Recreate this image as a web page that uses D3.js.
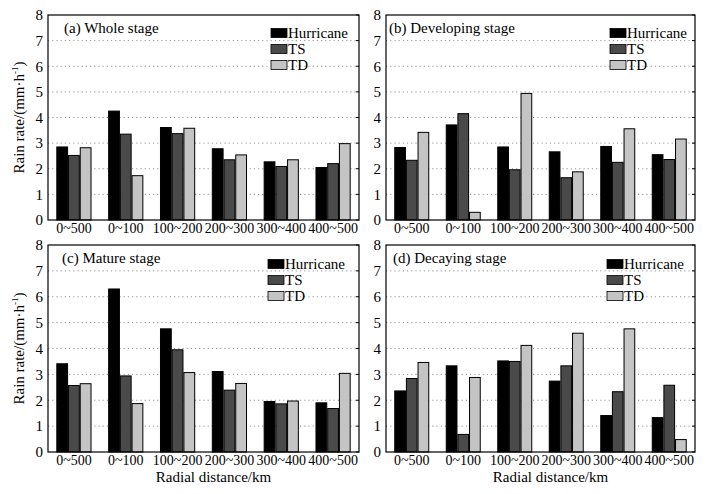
<!DOCTYPE html>
<html>
<head>
<meta charset="utf-8">
<script src="https://cdn.jsdelivr.net/npm/d3@7"></script>
<style>
  body { margin: 0; background: #fff; }
  text { font-family: "Liberation Serif", "Times New Roman", serif; }
</style>
</head>
<body>
<div id="chart"></div>
<script>
// data
var categories = ["0~500", "0~100", "100~200", "200~300", "300~400", "400~500"];
var seriesNames = ["Hurricane", "TS", "TD"];
var yTicks = [0, 1, 2, 3, 4, 5, 6, 7, 8];

var wholeHurricane = [2.85, 4.25, 3.61, 2.78, 2.27, 2.05];
var wholeTS = [2.52, 3.35, 3.37, 2.35, 2.09, 2.20];
var wholeTD = [2.82, 1.73, 3.58, 2.54, 2.35, 2.98];

var devHurricane = [2.83, 3.71, 2.85, 2.66, 2.87, 2.55];
var devTS = [2.33, 4.15, 1.96, 1.65, 2.25, 2.36];
var devTD = [3.42, 0.30, 4.94, 1.88, 3.56, 3.16];

var matHurricane = [3.41, 6.30, 4.76, 3.11, 1.95, 1.90];
var matTS = [2.57, 2.94, 3.95, 2.39, 1.86, 1.68];
var matTD = [2.64, 1.87, 3.07, 2.65, 1.97, 3.04];

var decHurricane = [2.36, 3.33, 3.52, 2.74, 1.41, 1.33];
var decTS = [2.84, 0.68, 3.50, 3.33, 2.33, 2.58];
var decTD = [3.46, 2.88, 4.12, 4.59, 4.76, 0.48];

var titles = ["(a) Whole stage", "(b) Developing stage", "(c) Mature stage", "(d) Decaying stage"];

var colors = ["#000000", "#4a4a4a", "#c4c4c4"];

// panel boxes
var panels = [
  {x0: 48, x1: 359, y0: 15, y1: 220, titleDx: 16, legX: 271, legY: 33, data: [wholeHurricane, wholeTS, wholeTD], ylab: true, xlab: false},
  {x0: 386, x1: 695, y0: 15, y1: 220, titleDx: 3, legX: 610, legY: 33, data: [devHurricane, devTS, devTD], ylab: false, xlab: false},
  {x0: 48, x1: 359, y0: 245, y1: 452, titleDx: 14, legX: 268, legY: 264, data: [matHurricane, matTS, matTD], ylab: true, xlab: true},
  {x0: 386, x1: 695, y0: 245, y1: 452, titleDx: 7, legX: 607, legY: 264, data: [decHurricane, decTS, decTD], ylab: false, xlab: true}
];

var svg = d3.select("#chart")
  .append("svg")
  .attr("width", 719)
  .attr("height", 494);

panels.forEach(function(p, i) {
  var w = p.x1 - p.x0;
  var h = p.y1 - p.y0;
  var g = svg.append("g").attr("transform", `translate(${p.x0}, ${p.y0})`);

  var x0 = d3.scaleBand()
    .domain(categories)
    .range([0, w])
    .paddingInner(0.34)
    .paddingOuter(0.17);

  var x1 = d3.scaleBand()
    .domain(seriesNames)
    .range([0, x0.bandwidth()])
    .paddingInner(0.08);

  var y = d3.scaleLinear().domain([0, 8]).range([h, 0]);

  // dotted grid
  g.selectAll("line.grid")
    .data(yTicks.slice(1, -1))
    .enter()
    .append("line")
    .attr("x1", 0).attr("x2", w)
    .attr("y1", d => y(d)).attr("y2", d => y(d))
    .attr("stroke", "#777")
    .attr("stroke-width", 0.8)
    .attr("stroke-dasharray", "1.2,3");

  // y axis labels
  var yAxis = d3.axisLeft(y).tickValues(yTicks).tickSize(0).tickPadding(5);
  var ya = g.append("g").call(yAxis);
  ya.select(".domain").remove();
  ya.selectAll("text").attr("font-size", 15).attr("fill", "#000")
    .attr("font-family", "Liberation Serif");

  // inner ticks on right side
  g.selectAll("line.rt")
    .data(yTicks)
    .enter()
    .append("line")
    .attr("x1", w - 3).attr("x2", w)
    .attr("y1", d => y(d)).attr("y2", d => y(d))
    .attr("stroke", "#000");

  // x axis labels
  var xAxis = d3.axisBottom(x0).tickSize(0).tickPadding(3);
  var xa = g.append("g").attr("transform", `translate(0, ${h})`).call(xAxis);
  xa.select(".domain").remove();
  xa.selectAll("text").attr("font-size", 14).attr("fill", "#000")
    .attr("font-family", "Liberation Serif");

  // bars
  var rows = categories.map(function(c, ci) {
    return seriesNames.map(function(s, si) {
      return {cat: c, series: s, idx: si, value: p.data[si][ci]};
    });
  });

  g.selectAll("g.grp")
    .data(rows)
    .enter()
    .append("g")
    .attr("transform", (d, ci) => `translate(${x0(categories[ci])}, 0)`)
    .selectAll("rect")
    .data(d => d)
    .enter()
    .append("rect")
    .attr("x", d => x1(d.series))
    .attr("y", d => y(d.value))
    .attr("width", x1.bandwidth())
    .attr("height", d => h - y(d.value))
    .attr("fill", d => colors[d.idx])
    .attr("stroke", "#000")
    .attr("stroke-width", 1);

  // frame
  g.append("rect")
    .attr("width", w).attr("height", h)
    .attr("fill", "none")
    .attr("stroke", "#000")
    .attr("stroke-width", 1.2);

  // panel title
  g.append("text")
    .attr("x", p.titleDx)
    .attr("y", 18)
    .attr("font-size", 15)
    .text(titles[i]);

  // legend
  seriesNames.forEach(function(s, si) {
    var ly = p.legY + si * 16;
    svg.append("rect")
      .attr("x", p.legX).attr("y", ly - 4.5)
      .attr("width", 16).attr("height", 9)
      .attr("fill", colors[si])
      .attr("stroke", "#000")
      .attr("stroke-width", 0.8);
    svg.append("text")
      .attr("x", p.legX + 17)
      .attr("y", ly + 5)
      .attr("font-size", 15)
      .text(s);
  });

  // y axis title
  if (p.ylab) {
    var yt = svg.append("text")
      .attr("transform", `translate(24, ${p.y0 + h / 2}) rotate(-90)`)
      .attr("text-anchor", "middle")
      .attr("font-size", 15);
    yt.append("tspan").text("Rain rate/(mm·h");
    yt.append("tspan").attr("font-size", 9).attr("dy", -6).text("-1");
    yt.append("tspan").attr("dy", 6).text(")");
  }

  // x axis title
  if (p.xlab) {
    svg.append("text")
      .attr("x", p.x0 + w / 2 + 10)
      .attr("y", 482)
      .attr("text-anchor", "middle")
      .attr("font-size", 15)
      .text("Radial distance/km");
  }
});
</script>
</body>
</html>
